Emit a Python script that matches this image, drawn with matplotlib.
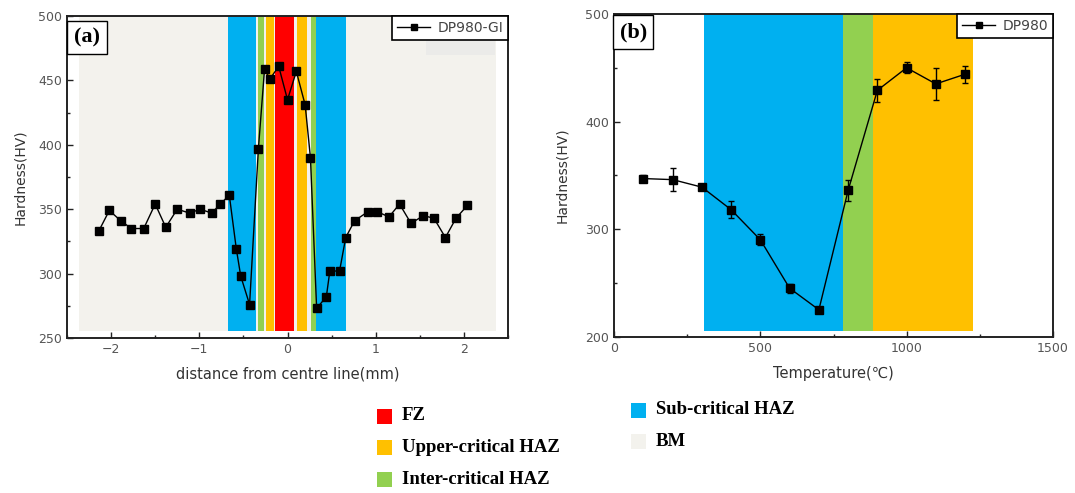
import numpy as np
import matplotlib
matplotlib.use("Agg")
import matplotlib.pyplot as plt
from matplotlib.patches import Rectangle
from matplotlib.lines import Line2D

# ---- data: panel (a), hardness vs distance from centre line
dist_mm = [-2.14, -2.02, -1.89, -1.77, -1.63, -1.50, -1.38, -1.25, -1.11, -0.99,
           -0.86, -0.76, -0.66, -0.58, -0.53, -0.43, -0.33, -0.26, -0.20, -0.10,
           0.00, 0.10, 0.20, 0.26, 0.33, 0.44, 0.48, 0.59, 0.66, 0.76, 0.91,
           1.02, 1.15, 1.27, 1.40, 1.54, 1.66, 1.79, 1.91, 2.04]
hard_a = [333, 349, 341, 335, 335, 354, 336, 350, 347, 350,
          347, 354, 361, 319, 298, 276, 397, 459, 451, 461,
          435, 457, 431, 390, 273, 282, 302, 302, 328, 341, 348,
          348, 344, 354, 339, 345, 343, 328, 343, 353]

# ---- data: panel (b), hardness vs peak temperature
temp_c = [100, 200, 300, 400, 500, 600, 700, 800, 900, 1000, 1100, 1200]
hard_b = [347, 346, 339, 318, 290, 245, 225, 336, 429, 450, 435, 444]
err_b = [3, 11, 3, 8, 5, 4, 2, 10, 11, 5, 15, 8]

# ---- zones
zone_names = ['FZ', 'Upper-critical HAZ', 'Inter-critical HAZ', 'Sub-critical HAZ', 'BM']
zone_colors = ['#FF0000', '#FFC000', '#92D050', '#00B0F0', '#F3F2ED']

# panel (a) bands: (start, end, zone index)
bands_a = [(-0.676, -0.357, 3), (-0.331, -0.267, 2), (-0.244, -0.154, 1),
           (-0.140, 0.075, 0), (0.105, 0.221, 1), (0.266, 0.319, 2), (0.326, 0.665, 3)]
bm_a = (-2.36, 2.36)
# panel (b) bands
bands_b = [(307, 783, 3), (783, 886, 2), (886, 1226, 1)]
band_floor_a = 255.4
band_floor_b = 205.6

tick_col = '#555555'

fig = plt.figure(figsize=(10.75, 4.93), dpi=100)
ax1 = fig.add_axes([0.0623, 0.3144, 0.4103, 0.6531])
ax2 = fig.add_axes([0.5714, 0.3171, 0.4079, 0.6545])


def style_axes(ax):
    for sp in ax.spines.values():
        sp.set_linewidth(1.4)
        sp.set_color('#222222')
    ax.tick_params(which='both', direction='in', colors='#222222',
                   labelcolor=tick_col, labelsize=9)
    ax.tick_params(which='major', length=4, width=1)
    ax.tick_params(which='minor', length=2.5, width=1)


def add_legend(ax, label):
    leg = ax.legend([Line2D([], [], color='k', lw=1, marker='s', ms=4.5)], [label],
                    loc='upper right', borderaxespad=0, fancybox=False, framealpha=1,
                    edgecolor='k', handlelength=2.4, handletextpad=0.5,
                    borderpad=0.35, prop={'size': 10})
    leg.get_frame().set_linewidth(1.2)
    for t in leg.get_texts():
        t.set_color('#444444')


def add_tag(ax, tag, x, y):
    ax.text(x, y, tag, transform=ax.transAxes, ha='left', va='top',
            fontsize=16, fontweight='bold', family='Liberation Serif', zorder=5,
            bbox=dict(boxstyle='square,pad=0.3', fc='white', ec='k', lw=1))


# ---------- panel (a)
ax1.fill_between(bm_a, band_floor_a, 500, color=zone_colors[4], lw=0, zorder=0)
ax1.fill_between([1.566, 2.354], 469.7, 481.4, color='#EBEBE9', lw=0, zorder=0)
for x0, x1, z in bands_a:
    ax1.fill_between([x0, x1], band_floor_a, 500, color=zone_colors[z], lw=0, zorder=1)
ax1.plot(dist_mm, hard_a, color='k', lw=1, marker='s', ms=5.5, zorder=3)
ax1.set_xlim(-2.5, 2.5)
ax1.set_ylim(250, 500)
ax1.set_xticks([-2, -1, 0, 1, 2])
ax1.set_xticks(np.arange(-2.5, 2.6, 0.5), minor=True)
ax1.set_yticks(np.arange(250, 501, 50))
ax1.set_yticks(np.arange(250, 501, 25), minor=True)
style_axes(ax1)
ax1.set_xlabel('distance from centre line(mm)', fontsize=10.5, color='#333333', labelpad=8)
ax1.set_ylabel('Hardness(HV)', fontsize=10, color='#333333', labelpad=8)
add_legend(ax1, 'DP980-GI')
add_tag(ax1, '(a)', 0.016, 0.965)

# ---------- panel (b)
for x0, x1, z in bands_b:
    ax2.fill_between([x0, x1], band_floor_b, 500, color=zone_colors[z], lw=0, zorder=1)
ax2.errorbar(temp_c, hard_b, yerr=err_b, color='k', lw=1, marker='s', ms=6,
             capsize=2.5, elinewidth=1, capthick=1, zorder=3)
ax2.set_xlim(0, 1500)
ax2.set_ylim(200, 500)
ax2.set_xticks([0, 500, 1000, 1500])
ax2.set_xticks(np.arange(0, 1501, 250), minor=True)
ax2.set_yticks([200, 300, 400, 500])
ax2.set_yticks(np.arange(200, 501, 50), minor=True)
style_axes(ax2)
ax2.set_xlabel('Temperature(\u2103)', fontsize=10.5, color='#333333', labelpad=8)
ax2.set_ylabel('Hardness(HV)', fontsize=10, color='#333333', labelpad=12)
add_legend(ax2, 'DP980')
add_tag(ax2, '(b)', 0.012, 0.975)

# ---------- zone key under the panels
W, H = 1075, 493
col_x = [377, 631]
rows = [[0, 1, 2], [3, 4]]
row_y0 = [416, 410]
row_step = 31.5
for c, idxs in enumerate(rows):
    for r, i in enumerate(idxs):
        yc = row_y0[c] + r * row_step
        fig.patches.append(Rectangle((col_x[c] / W, 1 - (yc + 7.5) / H), 15 / W, 15 / H,
                                     transform=fig.transFigure, fc=zone_colors[i],
                                     ec='none'))
        fig.text((col_x[c] + 25) / W, 1 - yc / H, zone_names[i], ha='left',
                 va='center', fontsize=13.5, fontweight='bold',
                 family='Liberation Serif')

fig.savefig('out.png', dpi=100)
